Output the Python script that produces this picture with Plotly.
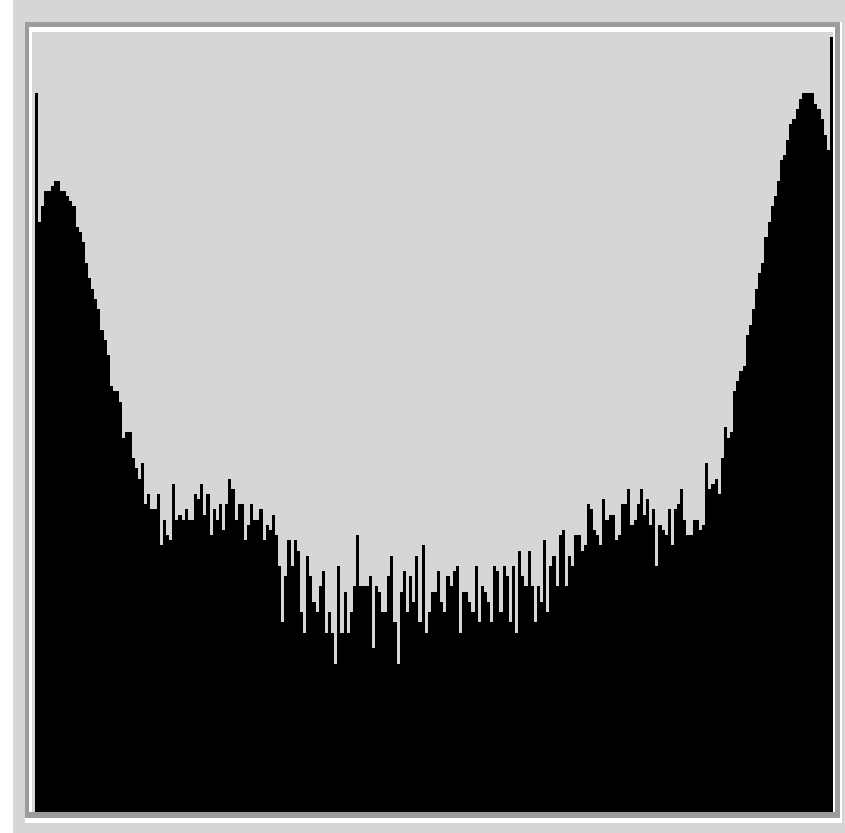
import plotly.graph_objects as go

# Histogram of 256 intensity levels (bar heights, arbitrary units)
levels = list(range(256))
counts = [
    719, 590, 606, 621, 621, 626, 631, 631, 621, 621,
    616, 611, 606, 585, 580, 570, 549, 534, 523, 513,
    503, 482, 472, 457, 426, 421, 421, 410, 374, 380,
    380, 354, 344, 333, 349, 308, 318, 303, 303, 318,
    267, 292, 277, 272, 328, 292, 297, 292, 303, 292,
    292, 318, 313, 328, 297, 318, 277, 303, 292, 308,
    282, 308, 333, 323, 292, 308, 308, 272, 287, 308,
    292, 292, 303, 272, 287, 282, 297, 277, 246, 190,
    236, 272, 246, 272, 261, 200, 179, 256, 236, 210,
    200, 226, 241, 179, 200, 179, 148, 246, 179, 220,
    179, 200, 226, 277, 226, 226, 226, 236, 164, 226,
    220, 200, 200, 236, 256, 190, 148, 220, 241, 200,
    236, 210, 256, 190, 267, 179, 200, 220, 220, 241,
    210, 200, 236, 226, 241, 246, 179, 220, 220, 210,
    200, 246, 190, 226, 220, 210, 190, 246, 241, 200,
    246, 236, 190, 246, 179, 261, 236, 226, 261, 226,
    190, 226, 210, 272, 200, 246, 256, 226, 277, 282,
    226, 256, 246, 277, 277, 261, 267, 308, 303, 282,
    277, 267, 313, 292, 297, 297, 272, 277, 308, 308,
    323, 287, 292, 308, 323, 297, 313, 287, 303, 246,
    287, 282, 277, 303, 267, 303, 308, 323, 292, 277,
    277, 292, 292, 282, 287, 349, 323, 328, 333, 318,
    354, 385, 374, 380, 421, 431, 441, 446, 477, 487,
    503, 523, 539, 549, 575, 590, 606, 616, 631, 652,
    657, 672, 688, 693, 703, 713, 719, 719, 719, 719,
    708, 703, 693, 677, 662, 775,
]

W, H = 845, 833
L, R, T, B = 32, 12, 32, 21
PW, PH = W - L - R, H - T - B

def px(x):
    return (x - L) / PW

def py(y):
    return (H - B - y) / PH

LIGHT = "#d6d6d6"
FRAME = "#9c9c9c"

fig = go.Figure()
fig.add_trace(go.Bar(
    x=levels, y=counts, width=1,
    marker=dict(color="black", line=dict(width=0)),
    hoverinfo="skip",
))

shapes = [
    # white strip at the far left
    dict(type="rect", xref="paper", yref="paper", x0=px(0), x1=px(13), y0=py(833), y1=py(0),
         fillcolor="white", line=dict(width=0), layer="below"),
    # etched border: outer white highlight, gray frame, inner white line
    dict(type="rect", xref="paper", yref="paper", x0=px(25), x1=px(842), y0=py(823), y1=py(22),
         fillcolor="white", line=dict(width=0), layer="below"),
    dict(type="rect", xref="paper", yref="paper", x0=px(25), x1=px(840), y0=py(818), y1=py(22),
         fillcolor=FRAME, line=dict(width=0), layer="below"),
    dict(type="rect", xref="paper", yref="paper", x0=px(29), x1=px(835), y0=py(812), y1=py(27),
         fillcolor="white", line=dict(width=0), layer="below"),
    dict(type="rect", xref="paper", yref="paper", x0=px(32), x1=px(833), y0=py(812), y1=py(32),
         fillcolor=LIGHT, line=dict(width=0), layer="below"),
]

unit = (833 - 35) / 256.0
fig.update_layout(
    width=W, height=H,
    margin=dict(l=L, r=R, t=T, b=B, pad=0),
    paper_bgcolor=LIGHT,
    plot_bgcolor=LIGHT,
    bargap=0,
    showlegend=False,
    shapes=shapes,
    xaxis=dict(range=[-0.5 - 3 / unit, 255.5], visible=False, fixedrange=True),
    yaxis=dict(range=[0, 780], visible=False, fixedrange=True),
)

fig.write_html(
    "out.html",
    config={"displayModeBar": False},
    post_script="document.body.style.margin='0';document.body.style.overflow='hidden';",
)
